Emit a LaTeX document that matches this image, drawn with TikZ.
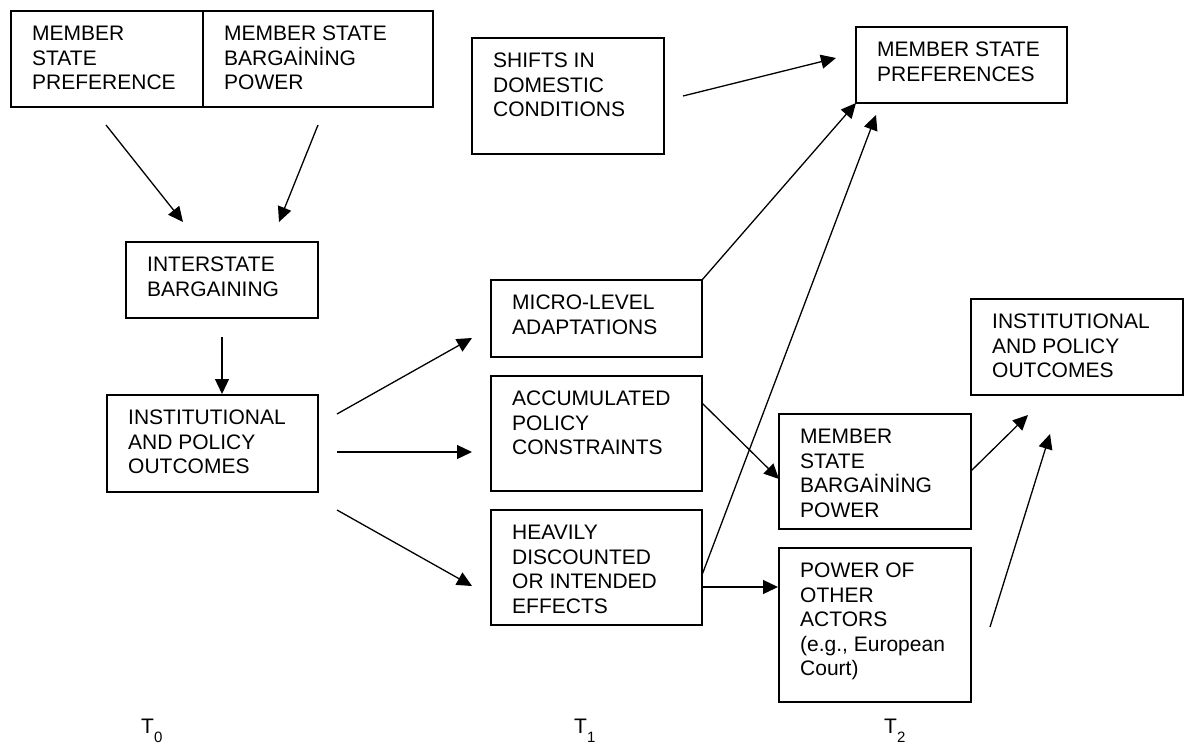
\documentclass[tikz,border=0pt]{standalone}
\usepackage{fontspec}
\setmainfont{Liberation Sans}
\usetikzlibrary{arrows.meta,calc}

\newcommand{\tsub}[1]{\raisebox{-9pt}{\fontsize{15}{15}\selectfont #1}}

\begin{document}
\begin{tikzpicture}[x=1pt,y=-1pt,
    stagebox/.style={draw, line width=1.8pt, anchor=north west, inner sep=0pt, outer sep=0pt},
    stagetext/.style={anchor=north west, inner sep=0pt, align=left, xshift=21pt, yshift=-15pt,
        font=\fontsize{21}{24.5}\selectfont},
    flow/.style={-{Triangle[length=15pt,width=14pt]}, line width=1.3pt}]
    \useasboundingbox (0,0) rectangle (1186,744);

    % Boxes at T0
    \node[stagebox, minimum width=192pt, minimum height=96pt] (pref0) at (11,11) {};
    \node[stagebox, minimum width=230pt, minimum height=96pt] (power0) at (203,11) {};
    \node[stagebox, minimum width=192pt, minimum height=76pt] (inter) at (126,242) {};
    \node[stagebox, minimum width=211pt, minimum height=97pt] (outc0) at (107,395) {};

    % Boxes at T1
    \node[stagebox, minimum width=192pt, minimum height=116pt] (shifts) at (472,38) {};
    \node[stagebox, minimum width=211pt, minimum height=77pt] (micro) at (491,280) {};
    \node[stagebox, minimum width=211pt, minimum height=115pt] (accum) at (491,376) {};
    \node[stagebox, minimum width=211pt, minimum height=115pt] (heavy) at (491,510) {};

    % Boxes at T2
    \node[stagebox, minimum width=211pt, minimum height=76pt] (pref2) at (856,27) {};
    \node[stagebox, minimum width=212pt, minimum height=96pt] (outc2) at (971,299) {};
    \node[stagebox, minimum width=192pt, minimum height=115pt] (bpow2) at (779,414) {};
    \node[stagebox, minimum width=192pt, minimum height=154pt] (other2) at (779,548) {};

    % Texts in the boxes
    \node[stagetext] (pref0-txt) at (pref0.north west) {MEMBER\\STATE\\PREFERENCE};
    \node[stagetext] (power0-txt) at (power0.north west) {MEMBER STATE\\BARGAİNİNG\\POWER};
    \node[stagetext] (inter-txt) at (inter.north west) {INTERSTATE\\BARGAINING};
    \node[stagetext] (outc0-txt) at (outc0.north west) {INSTITUTIONAL\\AND POLICY\\OUTCOMES};
    \node[stagetext] (shifts-txt) at (shifts.north west) {SHIFTS IN\\DOMESTIC\\CONDITIONS};
    \node[stagetext] (micro-txt) at (micro.north west) {MICRO-LEVEL\\ADAPTATIONS};
    \node[stagetext] (accum-txt) at (accum.north west) {ACCUMULATED\\POLICY\\CONSTRAINTS};
    \node[stagetext] (heavy-txt) at (heavy.north west) {HEAVILY\\DISCOUNTED\\OR INTENDED\\EFFECTS};
    \node[stagetext] (pref2-txt) at (pref2.north west) {MEMBER STATE\\PREFERENCES};
    \node[stagetext] (outc2-txt) at (outc2.north west) {INSTITUTIONAL\\AND POLICY\\OUTCOMES};
    \node[stagetext] (bpow2-txt) at (bpow2.north west) {MEMBER\\STATE\\BARGAİNİNG\\POWER};
    \node[stagetext] (other2-txt) at (other2.north west) {POWER OF\\OTHER\\ACTORS\\(e.g., European\\Court)};

    % End points of the arrows
    \coordinate (pref0-out) at (106,125);
    \coordinate (power0-out) at (318,125);
    \coordinate (inter-inl) at (183,222);
    \coordinate (inter-inr) at (279,222);
    \coordinate (inter-out) at (222,337);
    \coordinate (outc0-in) at (222,394);
    \coordinate (outc0-up) at (337,414);
    \coordinate (outc0-mid) at (337,452);
    \coordinate (outc0-low) at (337,510);
    \coordinate (micro-in) at (472,338);
    \coordinate (accum-in) at (472,452);
    \coordinate (heavy-in) at (472,586);
    \coordinate (shifts-out) at (683,96);
    \coordinate (pref2-in) at (836,58);
    \coordinate (pref2-inb) at (876,115);
    \coordinate (heavy-up) at (702,575);
    \coordinate (heavy-out) at (702,587);
    \coordinate (other2-in) at (778,587);
    \coordinate (accum-out) at (702,403);
    \coordinate (bpow2-in) at (779,479);
    \coordinate (bpow2-out) at (971,471);
    \coordinate (outc2-inl) at (1028,415);
    \coordinate (other2-out) at (990,627);
    \coordinate (outc2-inr) at (1050,434);

    % Arrows T0
    \draw[flow] (pref0-out) -- (inter-inl);
    \draw[flow] (power0-out) -- (inter-inr);
    \draw[flow] (inter-out) -- (outc0-in);
    \draw[flow] (outc0-up) -- (micro-in);
    \draw[flow] (outc0-mid) -- (accum-in);
    \draw[flow] (outc0-low) -- (heavy-in);

    % Arrows T1
    \draw[flow] (shifts-out) -- (pref2-in);
    \draw[flow] (micro.north east) -- (pref2.south west);
    \draw[flow] (heavy-up) -- (pref2-inb);
    \draw[flow] (accum-out) -- (bpow2-in);
    \draw[flow] (heavy-out) -- (other2-in);

    % Arrows T2
    \draw[flow] (bpow2-out) -- (outc2-inl);
    \draw[flow] (other2-out) -- (outc2-inr);

    % Time labels
    \node[anchor=base west, inner sep=0pt, font=\fontsize{21}{24.5}\selectfont] (t0) at (141,733) {T\tsub{0}};
    \node[anchor=base west, inner sep=0pt, font=\fontsize{21}{24.5}\selectfont] (t1) at (574,733) {T\tsub{1}};
    \node[anchor=base west, inner sep=0pt, font=\fontsize{21}{24.5}\selectfont] (t2) at (884,733) {T\tsub{2}};
\end{tikzpicture}
\end{document}
